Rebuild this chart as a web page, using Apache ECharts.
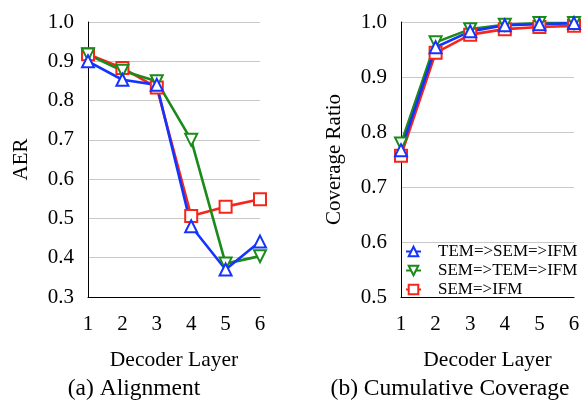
<!DOCTYPE html>
<html>
<head>
<meta charset="utf-8">
<script src="https://cdn.jsdelivr.net/npm/echarts@6/dist/echarts.min.js"></script>
<style>
  html, body { margin: 0; padding: 0; background: #fff; }
  #chart { width: 583px; height: 408px; }
</style>
</head>
<body>
<div id="chart"></div>
<script>
// Decoder layers on the x axis of both panels
const layers = ['1', '2', '3', '4', '5', '6'];

// (a) Alignment error rate per decoder layer
const aerTemSemIfm = [0.900, 0.853, 0.840, 0.480, 0.370, 0.441];
const aerSemTemIfm = [0.917, 0.876, 0.849, 0.700, 0.385, 0.404];
const aerSemIfm    = [0.918, 0.883, 0.833, 0.506, 0.530, 0.549];

// (b) Cumulative coverage ratio per decoder layer
const covTemSemIfm = [0.767, 0.954, 0.983, 0.994, 0.996, 0.998];
const covSemTemIfm = [0.779, 0.963, 0.987, 0.995, 0.998, 0.998];
const covSemIfm    = [0.757, 0.944, 0.977, 0.987, 0.991, 0.993];

const seriesNames = ['TEM=>SEM=>IFM', 'SEM=>TEM=>IFM', 'SEM=>IFM'];

const FONT = 'Liberation Serif';
const BLUE = '#1433ff';
const GREEN = '#1a8a1a';
const RED = '#f5261a';

const chart = echarts.init(document.getElementById('chart'), null, { renderer: 'canvas' });

function xAxis(gridIndex) {
  return {
    type: 'category', gridIndex, data: layers, boundaryGap: false,
    axisLine: { lineStyle: { color: '#000', width: 1 } },
    axisTick: { show: false },
    axisLabel: { color: '#000', fontFamily: FONT, fontSize: 21, margin: 17 },
    name: 'Decoder Layer', nameLocation: 'middle', nameGap: 52,
    nameTextStyle: { color: '#000', fontFamily: FONT, fontSize: 21.5 },
    splitLine: { show: false }
  };
}

function yAxis(gridIndex, min, name, gap) {
  return {
    type: 'value', gridIndex, min, max: 1.0, interval: 0.1,
    axisLine: { show: true, lineStyle: { color: '#000', width: 1 } },
    axisTick: { show: false },
    axisLabel: { color: '#000', fontFamily: FONT, fontSize: 21, margin: 14,
                 formatter: v => v.toFixed(1) },
    splitLine: { show: true, lineStyle: { color: '#c8c8c8', width: 1 } },
    name, nameLocation: 'middle', nameGap: gap,
    nameTextStyle: { color: '#000', fontFamily: FONT, fontSize: 21 }
  };
}

function line(name, data, color, symbol, rotate, axisIndex) {
  return {
    type: 'line', name, data,
    xAxisIndex: axisIndex, yAxisIndex: axisIndex,
    symbol, symbolSize: 12, symbolRotate: rotate,
    showAllSymbol: true, clip: false,
    lineStyle: { color, width: 2.6 },
    itemStyle: { color, borderColor: color, borderWidth: 2.5 },
    emphasis: { disabled: true },
    animation: false
  };
}

chart.setOption({
  backgroundColor: '#fff',
  animation: false,
  grid: [
    { left: 88, right: 323, top: 22, bottom: 111 },
    { left: 401, right: 9, top: 22, bottom: 111 }
  ],
  xAxis: [xAxis(0), xAxis(1)],
  yAxis: [yAxis(0, 0.3, 'AER', 56), yAxis(1, 0.5, 'Coverage Ratio', 56)],
  legend: {
    data: seriesNames,
    orient: 'vertical', left: 405, top: 243, padding: 0,
    itemWidth: 15, itemHeight: 12, itemGap: 2,
    textStyle: { color: '#000', fontFamily: FONT, fontSize: 17, padding: [0, 0, 0, 12] },
    selectedMode: false
  },
  series: [
    line(seriesNames[2], aerSemIfm, RED, 'emptyRect', 0, 0),
    line(seriesNames[1], aerSemTemIfm, GREEN, 'emptyTriangle', 180, 0),
    line(seriesNames[0], aerTemSemIfm, BLUE, 'emptyTriangle', 0, 0),
    line(seriesNames[2], covSemIfm, RED, 'emptyRect', 0, 1),
    line(seriesNames[1], covSemTemIfm, GREEN, 'emptyTriangle', 180, 1),
    line(seriesNames[0], covTemSemIfm, BLUE, 'emptyTriangle', 0, 1)
  ],
  graphic: [
    { type: 'text', x: 134, y: 389,
      style: { text: '(a) Alignment', fontFamily: FONT, fontSize: 23.5, fill: '#000',
               align: 'center', verticalAlign: 'middle' } },
    { type: 'text', x: 450, y: 389,
      style: { text: '(b) Cumulative Coverage', fontFamily: FONT, fontSize: 23.5, fill: '#000',
               align: 'center', verticalAlign: 'middle' } }
  ]
});
</script>
</body>
</html>
